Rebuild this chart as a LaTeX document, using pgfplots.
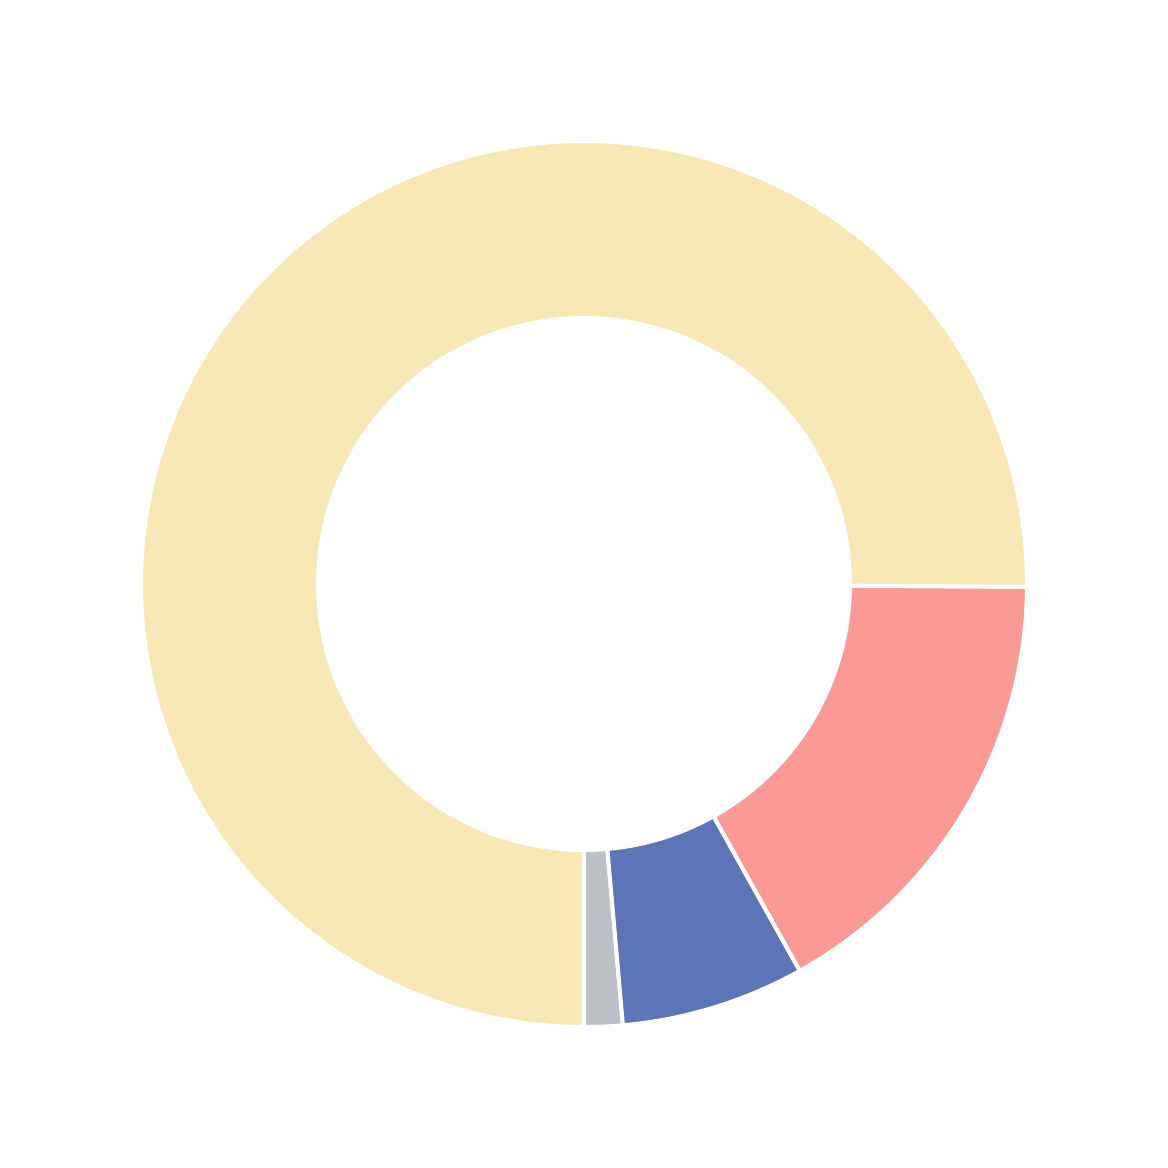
\documentclass[border=0pt]{standalone}
\usepackage{pgfplots}
\pgfplotsset{compat=1.18}
\definecolor{cyellow}{HTML}{F7E8B5}
\definecolor{cpink}{HTML}{FB9A94}
\definecolor{cblue}{HTML}{5C75B8}
\definecolor{cgray}{HTML}{BBC0C9}
% slice values (percent), drawn clockwise from the bottom
\def\vYellow{75.1}
\def\vPink{16.8}
\def\vBlue{6.7}
\def\vGray{1.4}
\pgfmathsetmacro{\aA}{-90}
\pgfmathsetmacro{\aB}{\aA+3.6*\vGray}
\pgfmathsetmacro{\aC}{\aB+3.6*\vBlue}
\pgfmathsetmacro{\aD}{\aC+3.6*\vPink}
\pgfmathsetmacro{\aE}{\aD+3.6*\vYellow}
\begin{document}
\begin{tikzpicture}
\begin{axis}[
  scale only axis, width=584bp, height=584bp,
  xmin=-584, xmax=584, ymin=-584, ymax=584,
  hide axis, clip=false,
]
\addplot[draw=none, forget plot] coordinates {(-584,-584) (584,584)};
\addplot[fill=cgray, draw=white, line width=2bp, domain=\aA:\aB, samples=20] ({443*cos(x)},{443*sin(x)}) -- (axis cs:0,0) -- cycle;
\addplot[fill=cblue, draw=white, line width=2bp, domain=\aB:\aC, samples=40] ({443*cos(x)},{443*sin(x)}) -- (axis cs:0,0) -- cycle;
\addplot[fill=cpink, draw=white, line width=2bp, domain=\aC:\aD, samples=80] ({443*cos(x)},{443*sin(x)}) -- (axis cs:0,0) -- cycle;
\addplot[fill=cyellow, draw=white, line width=2bp, domain=\aD:\aE, samples=300] ({443*cos(x)},{443*sin(x)}) -- (axis cs:0,0) -- cycle;
\addplot[fill=white, draw=none, domain=0:360, samples=300] ({268*cos(x)},{268*sin(x)}) -- cycle;
\end{axis}
\end{tikzpicture}
\end{document}
